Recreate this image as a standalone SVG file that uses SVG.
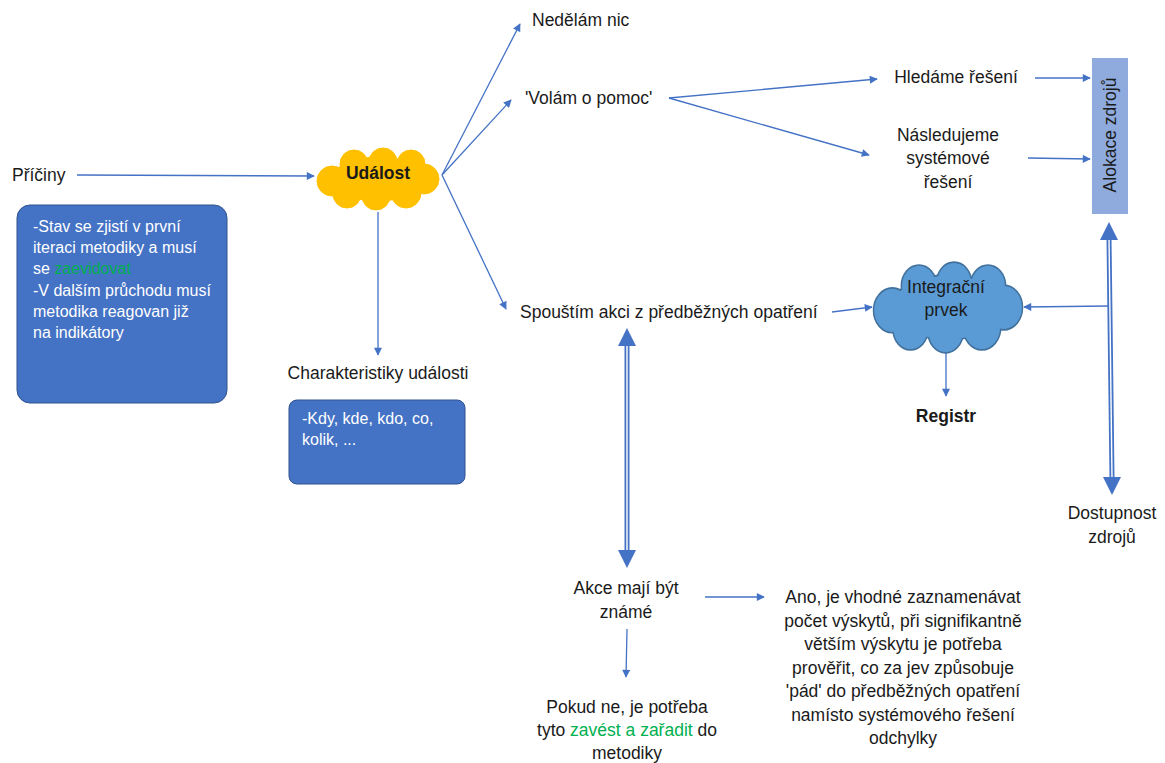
<svg xmlns="http://www.w3.org/2000/svg" width="1165" height="763" viewBox="0 0 1165 763">
<defs>
<style>
.t{font-family:"Liberation Sans",Arial,sans-serif;font-size:17.5px;fill:#1a1a1a}
.s{font-size:16px}
.c{text-anchor:middle}
.b{font-weight:bold}
.w{fill:#ffffff}
.g{fill:#00b050}
.ln{stroke:#4472c4;stroke-width:1.3;fill:none}
.dbl{stroke:#4472c4;stroke-width:5;fill:none}
.dblin{stroke:#ffffff;stroke-width:1.4;fill:none}
.box{fill:#4472c4;stroke:#2f528f;stroke-width:1}
</style>
<marker id="ah" viewBox="0 0 10 10" refX="9" refY="5" markerWidth="9" markerHeight="8" markerUnits="userSpaceOnUse" orient="auto">
<path d="M0,0 L10,5 L0,10 z" fill="#4472c4"/>
</marker>
<g id="cloud">
<circle cx="16" cy="33" r="15"/>
<circle cx="31" cy="46" r="14"/>
<circle cx="60" cy="48" r="14"/>
<circle cx="90" cy="45" r="15"/>
<circle cx="108" cy="31" r="15"/>
<circle cx="95" cy="16" r="14"/>
<circle cx="67" cy="14" r="14"/>
<circle cx="38" cy="16" r="14"/>
<ellipse cx="62" cy="31" rx="46" ry="22"/>
</g>
</defs>
<rect width="1165" height="763" fill="#ffffff"/>

<g id="connectors">
<path class="ln" d="M77,175 L314,176" marker-end="url(#ah)"/>
<path class="ln" d="M378,212 L378,355" marker-end="url(#ah)"/>
<path class="ln" d="M442,175 L520,24" marker-end="url(#ah)"/>
<path class="ln" d="M442,175 L511,100" marker-end="url(#ah)"/>
<path class="ln" d="M442,175 L506,309" marker-end="url(#ah)"/>
<path class="ln" d="M669,98 L877,79" marker-end="url(#ah)"/>
<path class="ln" d="M669,98 L869,155" marker-end="url(#ah)"/>
<path class="ln" d="M1035,78 L1090,78" marker-end="url(#ah)"/>
<path class="ln" d="M1028,158 L1090,159" marker-end="url(#ah)"/>
<path class="ln" d="M832,312 L872,307" marker-end="url(#ah)"/>
<path class="ln" d="M1109,306 L1024,307" marker-end="url(#ah)"/>
<path class="ln" d="M946,353 L946,396" marker-end="url(#ah)"/>
<path class="ln" d="M627,629 L626,677" marker-end="url(#ah)"/>
<path class="ln" d="M705,597 L764,597" marker-end="url(#ah)"/>
<!-- double arrow 1 -->
<path class="dbl" d="M627,344 L627,552"/>
<path class="dblin" d="M627,344 L627,552"/>
<path d="M627,328 L636,346 L618,346 z" fill="#4472c4"/>
<path d="M627,568 L636,550 L618,550 z" fill="#4472c4"/>
<!-- double arrow 2 -->
<path class="dbl" d="M1109,238 L1112,478"/>
<path class="dblin" d="M1109,238 L1112,478"/>
<path d="M1109,222 L1118,240 L1100,240 z" fill="#4472c4"/>
<path d="M1112,495 L1121,477 L1103,477 z" fill="#4472c4"/>
</g>

<g id="priciny"><text class="t" x="12" y="181">Příčiny</text></g>

<g id="box1">
<rect class="box" x="17" y="205" width="210" height="198" rx="13"/>
<text class="t s w" x="33" y="232">-Stav se zjistí v první</text>
<text class="t s w" x="33" y="253">iteraci metodiky a musí</text>
<text class="t s w" x="33" y="274">se <tspan class="g">zaevidovat</tspan></text>
<text class="t s w" x="33" y="296">-V dalším průchodu musí</text>
<text class="t s w" x="33" y="317">metodika reagovan již</text>
<text class="t s w" x="33" y="338">na indikátory</text>
</g>

<g id="udalost">
<use href="#cloud" transform="translate(316,148)" fill="#ffc000" stroke="#ffc000" stroke-width="1"/>
<text class="t c b" x="378" y="179">Událost</text>
</g>

<g id="charakteristiky"><text class="t c" x="378" y="379">Charakteristiky události</text></g>

<g id="box2">
<rect class="box" x="289" y="400" width="176" height="84" rx="8"/>
<text class="t s w" x="302" y="424">-Kdy, kde, kdo, co,</text>
<text class="t s w" x="302" y="445">kolik, ...</text>
</g>

<g id="nedelam"><text class="t" x="532" y="26">Nedělám nic</text></g>
<g id="volam"><text class="t" x="525" y="104">'Volám o pomoc'</text></g>
<g id="spoustim"><text class="t" x="520" y="318">Spouštím akci z předběžných opatření</text></g>

<g id="hledame"><text class="t c" x="956" y="83">Hledáme řešení</text></g>
<g id="nasledujeme">
<text class="t c" x="948" y="141">Následujeme</text>
<text class="t c" x="948" y="164">systémové</text>
<text class="t c" x="948" y="188">řešení</text>
</g>

<g id="alokace">
<rect x="1092" y="58" width="36" height="156" fill="#8faadc"/>
<text class="t c" transform="translate(1116,135) rotate(-90)" x="0" y="0">Alokace zdrojů</text>
</g>

<g id="integracni">
<use href="#cloud" transform="translate(873,263) scale(1.21,1.435)" fill="#5b9bd5" stroke="#41719c" stroke-width="2.4" vector-effect="non-scaling-stroke"/>
<use href="#cloud" transform="translate(873,263) scale(1.21,1.435)" fill="#5b9bd5"/>
<text class="t c" x="946" y="293">Integrační</text>
<text class="t c" x="946" y="316">prvek</text>
</g>

<g id="registr"><text class="t c b" x="946" y="422">Registr</text></g>

<g id="dostupnost">
<text class="t c" x="1112" y="519">Dostupnost</text>
<text class="t c" x="1112" y="543">zdrojů</text>
</g>

<g id="akce">
<text class="t c" x="626" y="594">Akce mají být</text>
<text class="t c" x="626" y="618">známé</text>
</g>

<g id="pokud">
<text class="t c" x="627" y="713">Pokud ne, je potřeba</text>
<text class="t c" x="627" y="736">tyto <tspan class="g">zavést a zařadit</tspan> do</text>
<text class="t c" x="627" y="759">metodiky</text>
</g>

<g id="ano">
<text class="t c" x="903" y="603">Ano, je vhodné zaznamenávat</text>
<text class="t c" x="903" y="627">počet výskytů, při signifikantně</text>
<text class="t c" x="903" y="650">větším výskytu je potřeba</text>
<text class="t c" x="903" y="674">prověřit, co za jev způsobuje</text>
<text class="t c" x="903" y="697">'pád' do předběžných opatření</text>
<text class="t c" x="903" y="721">namísto systémového řešení</text>
<text class="t c" x="903" y="744">odchylky</text>
</g>
</svg>
